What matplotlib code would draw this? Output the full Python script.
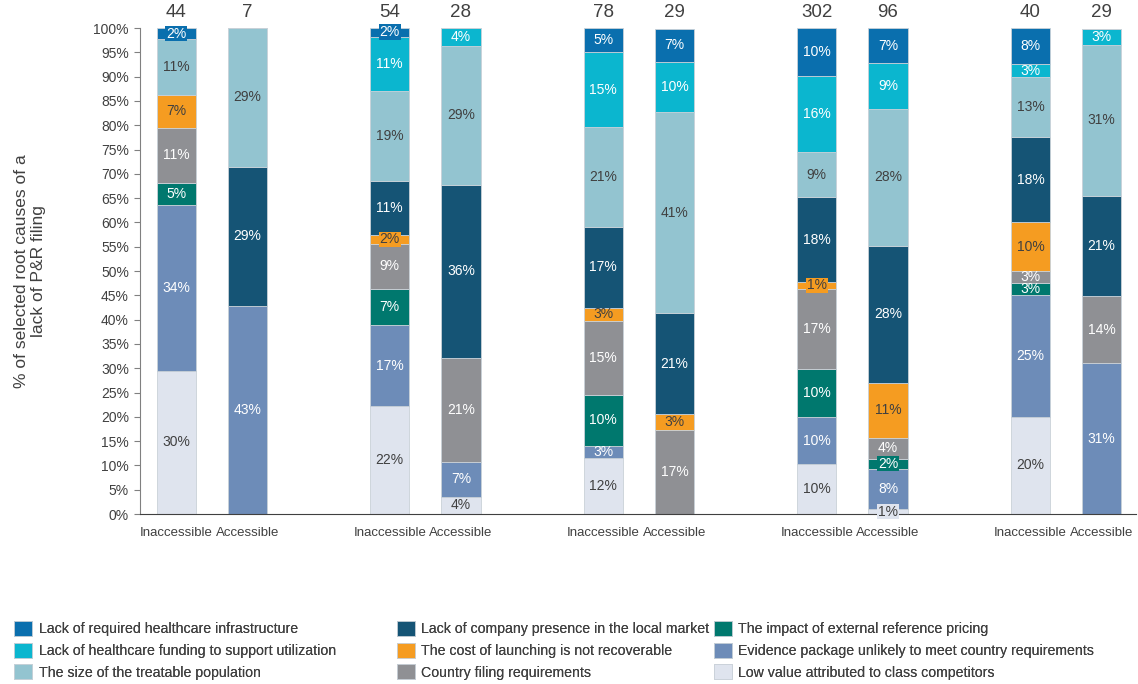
import matplotlib.pyplot as plt
import numpy as np

# bar order: Inaccessible / Accessible for 5 groups
bar_labels = ['Inaccessible', 'Accessible'] * 5
totals = [44, 7, 54, 28, 78, 29, 302, 96, 40, 29]

# shares in % (bottom to top of the stack)
low_value = [29.5, 0, 22.2, 3.6, 11.5, 0, 10.3, 1.0, 20.0, 0]
evidence = [34.1, 42.9, 16.7, 7.1, 2.6, 0, 9.6, 8.3, 25.0, 31.0]
ext_ref = [4.5, 0, 7.4, 0, 10.3, 0, 9.9, 2.1, 2.5, 0]
filing = [11.4, 0, 9.3, 21.4, 15.4, 17.2, 16.6, 4.2, 2.5, 13.8]
cost = [6.8, 0, 1.9, 0, 2.6, 3.4, 1.3, 11.46, 10.0, 0]
presence = [0, 28.6, 11.1, 35.7, 16.7, 20.7, 17.5, 28.13, 17.5, 20.7]
pop_size = [11.4, 28.6, 18.5, 28.6, 20.5, 41.4, 9.3, 28.13, 12.5, 31.0]
funding = [0, 0, 11.1, 3.6, 15.4, 10.3, 15.6, 9.4, 2.5, 3.4]
infra = [2.3, 0, 1.9, 0, 5.1, 6.9, 9.9, 7.3, 7.5, 0]

series = [
    ('Low value attributed to class competitors', low_value, '#dfe4ee', '#404040'),
    ('Evidence package unlikely to meet country requirements', evidence, '#6d8cb8', 'white'),
    ('The impact of external reference pricing', ext_ref, '#00786e', 'white'),
    ('Country filing requirements', filing, '#8f9094', 'white'),
    ('The cost of launching is not recoverable', cost, '#f59c21', '#404040'),
    ('Lack of company presence in the local market', presence, '#155475', 'white'),
    ('The size of the treatable population', pop_size, '#93c4d0', '#404040'),
    ('Lack of healthcare funding to support utilization', funding, '#0bb6cf', 'white'),
    ('Lack of required healthcare infrastructure', infra, '#0a6fae', 'white'),
]

plt.rcParams['font.family'] = ['Liberation Sans', 'DejaVu Sans']

fig = plt.figure(figsize=(11.38, 6.84), dpi=100)
ax = fig.add_axes([0.123, 0.2485, 0.875, 0.7105])

x = np.array([0, 1, 3, 4, 6, 7, 9, 10, 12, 13], dtype=float)
width = 0.55
bottom = np.zeros(len(x))
handles = {}
for name, vals, col, tcol in series:
    vals = np.array(vals)
    bars = ax.bar(x, vals, width, bottom=bottom, color=col,
                  edgecolor='#c9d1d8', linewidth=0.6, label=name)
    handles[name] = bars
    for xi, b, v in zip(x, bottom, vals):
        if v <= 0:
            continue
        kw = {}
        if v < 2.4:
            kw['bbox'] = dict(boxstyle='square,pad=0.05', fc=col, ec='none')
        ax.text(xi, b + v / 2, f'{int(v + 0.5)}%', ha='center', va='center',
                fontsize=10, color=tcol, **kw)
    bottom += vals

for xi, n in zip(x, totals):
    ax.text(xi, 103.3, str(n), ha='center', va='center', fontsize=13.5,
            color='#404040', clip_on=False)

ax.set_ylim(0, 100)
ax.set_xlim(-0.51, 13.48)
ax.set_yticks(np.arange(0, 101, 5))
ax.set_yticklabels([f'{v}%' for v in range(0, 101, 5)], fontsize=10, color='#404040')
ax.set_xticks(x)
ax.set_xticklabels(bar_labels, fontsize=9.5, color='#404040')
ax.tick_params(axis='y', length=4, color='#808080', pad=4)
ax.tick_params(axis='x', length=0, pad=9)
for s in ['top', 'right']:
    ax.spines[s].set_visible(False)
ax.spines['left'].set_color('#808080')
ax.spines['bottom'].set_color('#404040')
ax.set_ylabel('% of selected root causes of a\nlack of P&R filing', fontsize=12.5,
              color='#404040', labelpad=34)

columns = [
    ['Lack of required healthcare infrastructure',
     'Lack of healthcare funding to support utilization',
     'The size of the treatable population'],
    ['Lack of company presence in the local market',
     'The cost of launching is not recoverable',
     'Country filing requirements'],
    ['The impact of external reference pricing',
     'Evidence package unlikely to meet country requirements',
     'Low value attributed to class competitors'],
]
col_x = [0.004, 0.340, 0.619]
for cx, names in zip(col_x, columns):
    leg = fig.legend([handles[k] for k in names], names, loc='lower left',
                     bbox_to_anchor=(cx, -0.008), frameon=False, fontsize=10.2,
                     handlelength=1.25, handleheight=1.25, handletextpad=0.45,
                     labelspacing=0.45, borderpad=0.2)
    for t in leg.get_texts():
        t.set_color('#404040')
    fig.add_artist(leg)

fig.savefig('out.png', dpi=100)
